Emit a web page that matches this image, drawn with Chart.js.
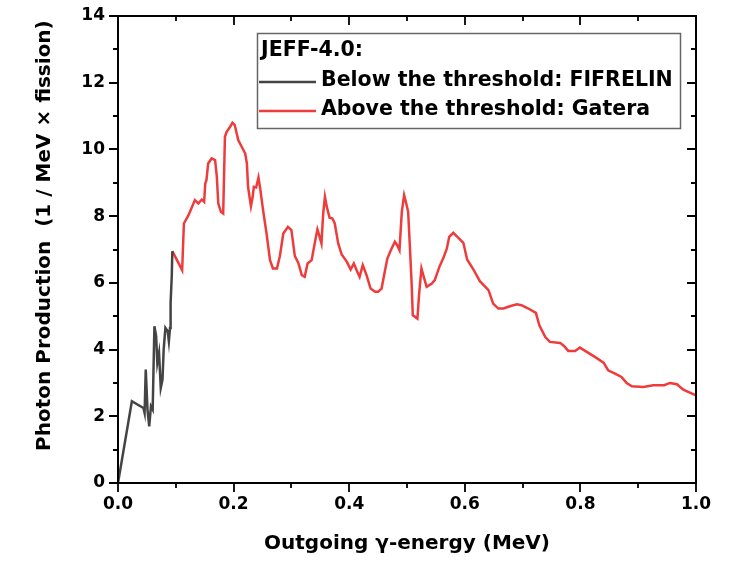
<!DOCTYPE html>
<html><head><meta charset="utf-8">
<script src="https://cdn.jsdelivr.net/npm/chart.js@4.4.1/dist/chart.umd.min.js"></script>
<style>html,body{margin:0;padding:0;background:#fff}#wrap{width:730px;height:562px}</style>
</head><body><div id="wrap"><canvas id="c" width="730" height="562"></canvas></div>
<script>
const legendTitle = 'JEFF-4.0:';
const seriesNames = ['Below the threshold: FIFRELIN', 'Above the threshold: Gatera'];
const seriesColors = ['#444444', '#EE3B3B'];
const xTitle = 'Outgoing \u03b3-energy (MeV)';
const yTitle = 'Photon Production  (1 / MeV \u00d7 fission)';
const xRange = [0, 1.0], xStep = 0.2;
const yRange = [0, 14], yStep = 2;

const belowX = [0, 0.024, 0.044, 0.046, 0.048, 0.051, 0.054, 0.057, 0.060, 0.063, 0.066, 0.068, 0.071, 0.074, 0.077, 0.079, 0.082, 0.086, 0.088, 0.090, 0.091, 0.093, 0.094];
const belowY = [0, 2.45, 2.25, 2.1, 3.4, 2.2, 1.7, 2.3, 2.2, 4.7, 4.4, 3.6, 3.9, 2.85, 3.1, 4.0, 4.65, 4.55, 4.25, 4.65, 5.4, 6.2, 6.95];

const aboveX = [0.094, 0.111, 0.114, 0.122, 0.133, 0.139, 0.145, 0.149, 0.151, 0.153, 0.156, 0.162, 0.168, 0.171, 0.1735, 0.178, 0.182, 0.185, 0.188, 0.194, 0.198, 0.202, 0.208, 0.214, 0.220, 0.223, 0.225, 0.230, 0.233, 0.235, 0.239, 0.243, 0.246, 0.251, 0.257, 0.263, 0.268, 0.275, 0.280, 0.286, 0.294, 0.300, 0.306, 0.312, 0.318, 0.323, 0.328, 0.335, 0.341, 0.345, 0.348, 0.352, 0.355, 0.358, 0.361, 0.366, 0.371, 0.375, 0.381, 0.387, 0.396, 0.4025, 0.408, 0.414, 0.418, 0.4235, 0.430, 0.437, 0.445, 0.450, 0.456, 0.462, 0.466, 0.472, 0.479, 0.483, 0.487, 0.491, 0.495, 0.498, 0.502, 0.505, 0.508, 0.510, 0.514, 0.518, 0.521, 0.525, 0.529, 0.534, 0.543, 0.548, 0.556, 0.563, 0.569, 0.573, 0.580, 0.589, 0.5975, 0.604, 0.615, 0.626, 0.641, 0.649, 0.658, 0.667, 0.678, 0.690, 0.698, 0.710, 0.723, 0.729, 0.739, 0.747, 0.765, 0.772, 0.779, 0.791, 0.799, 0.811, 0.825, 0.840, 0.848, 0.860, 0.871, 0.880, 0.889, 0.909, 0.926, 0.945, 0.955, 0.967, 0.978, 1.000];
const aboveY = [6.95, 6.38, 7.78, 8.03, 8.48, 8.38, 8.50, 8.43, 8.98, 9.08, 9.58, 9.73, 9.68, 9.18, 8.38, 8.13, 8.08, 10.38, 10.53, 10.68, 10.80, 10.73, 10.28, 10.08, 9.88, 9.58, 8.88, 8.30, 8.58, 8.88, 8.86, 9.16, 8.83, 8.18, 7.48, 6.68, 6.43, 6.43, 6.80, 7.48, 7.68, 7.58, 6.80, 6.60, 6.23, 6.18, 6.58, 6.68, 7.25, 7.60, 7.43, 7.18, 8.08, 8.58, 8.30, 7.95, 7.93, 7.78, 7.18, 6.85, 6.63, 6.40, 6.58, 6.33, 6.18, 6.53, 6.23, 5.83, 5.73, 5.73, 5.83, 6.38, 6.73, 6.98, 7.23, 7.13, 6.98, 8.13, 8.63, 8.43, 8.13, 7.08, 5.98, 5.03, 4.98, 4.93, 5.68, 6.43, 6.18, 5.88, 5.98, 6.08, 6.48, 6.75, 7.03, 7.38, 7.50, 7.35, 7.20, 6.70, 6.40, 6.05, 5.78, 5.38, 5.23, 5.23, 5.30, 5.36, 5.33, 5.23, 5.10, 4.73, 4.38, 4.23, 4.20, 4.10, 3.96, 3.96, 4.06, 3.93, 3.78, 3.61, 3.38, 3.28, 3.18, 3.00, 2.90, 2.88, 2.93, 2.93, 3.00, 2.96, 2.80, 2.63];

const toPts = (xs, ys) => xs.map((v, i) => ({x: v, y: ys[i]}));
const FONT = '"DejaVu Sans", sans-serif';

const framePlugin = {
  id: 'frame',
  afterDraw(chart) {
    const {ctx, chartArea: a, scales: {x, y}} = chart;
    ctx.save();
    ctx.strokeStyle = '#000';
    ctx.lineWidth = 2;
    ctx.beginPath();
    ctx.moveTo(a.left, a.bottom); ctx.lineTo(a.left, a.top); ctx.lineTo(a.right, a.top);
    ctx.lineTo(a.right, a.bottom); ctx.lineTo(a.left, a.bottom);
    ctx.stroke();
    ctx.lineWidth = 1.8;
    const major = 9, minor = 5;
    const xv = x.ticks.map(t => t.value);
    const yv = y.ticks.map(t => t.value);
    ctx.beginPath();
    xv.forEach((v, i) => {
      const p = Math.round(x.getPixelForValue(v));
      ctx.moveTo(p, a.bottom); ctx.lineTo(p, a.bottom + major);
      ctx.moveTo(p, a.top); ctx.lineTo(p, a.top + major);
      if (i < xv.length - 1) {
        const m = Math.round(x.getPixelForValue((v + xv[i + 1]) / 2));
        ctx.moveTo(m, a.bottom); ctx.lineTo(m, a.bottom + minor);
        ctx.moveTo(m, a.top); ctx.lineTo(m, a.top + minor);
      }
    });
    yv.forEach((v, i) => {
      const p = Math.round(y.getPixelForValue(v));
      ctx.moveTo(a.left, p); ctx.lineTo(a.left - major, p);
      ctx.moveTo(a.right, p); ctx.lineTo(a.right - major, p);
      if (i < yv.length - 1) {
        const m = Math.round(y.getPixelForValue((v + yv[i + 1]) / 2));
        ctx.moveTo(a.left, m); ctx.lineTo(a.left - minor, m);
        ctx.moveTo(a.right, m); ctx.lineTo(a.right - minor, m);
      }
    });
    ctx.stroke();

    // legend
    const lx = a.left + 139, ly = a.top + 17, lw = 423, lh = 95;
    ctx.strokeStyle = '#666';
    ctx.lineWidth = 1.5;
    ctx.strokeRect(lx + 0.5, ly + 0.5, lw, lh);
    ctx.fillStyle = '#000';
    ctx.font = 'bold 20.5px ' + FONT;
    ctx.textBaseline = 'middle';
    ctx.textAlign = 'left';
    ctx.fillText(legendTitle, lx + 4, ly + 18);
    chart.data.datasets.forEach((ds, i) => {
      const cy = ly + 48 + i * 29;
      ctx.strokeStyle = ds.borderColor;
      ctx.lineWidth = 2.5;
      ctx.beginPath(); ctx.moveTo(lx + 2, cy + 1); ctx.lineTo(lx + 59, cy + 1); ctx.stroke();
      ctx.fillText(ds.label, lx + 64, cy);
    });
    ctx.restore();
  }
};

new Chart(document.getElementById('c'), {
  type: 'line',
  data: {
    datasets: [
      {label: seriesNames[0], data: toPts(belowX, belowY), borderColor: seriesColors[0], borderWidth: 2.5, pointRadius: 0, tension: 0, fill: false},
      {label: seriesNames[1], data: toPts(aboveX, aboveY), borderColor: seriesColors[1], borderWidth: 2.5, pointRadius: 0, tension: 0, fill: false}
    ]
  },
  options: {
    responsive: false,
    animation: false,
    devicePixelRatio: 1,
    layout: {padding: {top: 16, right: 34, left: 0, bottom: 0}},
    plugins: {legend: {display: false}, tooltip: {enabled: false}},
    scales: {
      x: {
        type: 'linear', min: xRange[0], max: xRange[1],
        grid: {display: false},
        border: {display: false},
        ticks: {stepSize: xStep, padding: 3, color: '#000', font: {family: FONT, size: 17, weight: 'bold'}, maxRotation: 0,
          callback: v => Number(v).toFixed(1)},
        title: {display: true, text: xTitle, color: '#000', font: {family: FONT, size: 20, weight: 'bold'}, padding: {top: 0, bottom: 6}},
        afterFit: s => { s.height = 79; }
      },
      y: {
        type: 'linear', min: yRange[0], max: yRange[1],
        grid: {display: false},
        border: {display: false},
        ticks: {stepSize: yStep, padding: 5, color: '#000', font: {family: FONT, size: 17, weight: 'bold'},
          callback: v => String(v)},
        title: {display: true, text: '    ' + yTitle, color: '#000', font: {family: FONT, size: 20, weight: 'bold'}, padding: {top: 33, bottom: 0}},
        afterFit: s => { s.width = 118; }
      }
    }
  },
  plugins: [framePlugin]
});
</script>
</body></html>
